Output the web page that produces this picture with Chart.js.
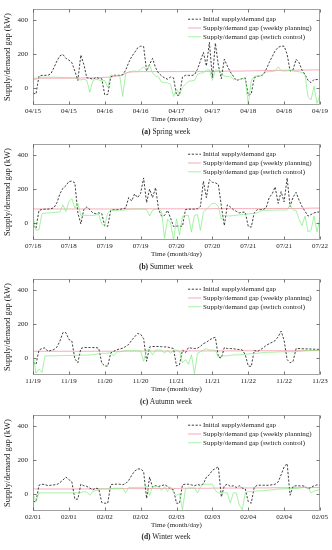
<!DOCTYPE html>
<html>
<head>
<meta charset="utf-8">
<script src="https://cdn.jsdelivr.net/npm/chart.js@4.4.0/dist/chart.umd.min.js"></script>
<style>
  body { margin: 0; background: #fff; width: 332px; height: 550px; position: relative; overflow: hidden; font-family: "Liberation Serif", serif; }
  .panel { position: absolute; left: 0; width: 332px; height: 128px; }
  .caption { position: absolute; left: 0; width: 332px; height: 10px; line-height: 10px; text-align: center; font-size: 7.5px; color: #222; }
</style>
</head>
<body>
<div class="panel" style="top:0px"><canvas id="spring" width="332" height="128"></canvas></div>
<div class="panel" style="top:135px"><canvas id="summer" width="332" height="128"></canvas></div>
<div class="panel" style="top:270px"><canvas id="autumn" width="332" height="128"></canvas></div>
<div class="panel" style="top:406px"><canvas id="winter" width="332" height="128"></canvas></div>
<div class="caption" style="top:127px"><b>(a)</b> Spring week</div>
<div class="caption" style="top:262px"><b>(b)</b> Summer week</div>
<div class="caption" style="top:397px"><b>(c)</b> Autumn week</div>
<div class="caption" style="top:532px"><b>(d)</b> Winter week</div>

<script>
// hourly values, 0..96 h
const seriesLabels = [
  "Initial supply/demand gap",
  "Supply/demand gap (weekly planning)",
  "Supply/demand gap (switch control)",
];
const yTicks = [0, 200, 400];

const springTicks = ["04/15", "04/15", "04/16", "04/16", "04/17", "04/17", "04/18", "04/18", "04/19"];
const springInitial = [
  -30, -35, 70, 75, 75, 75, 85, 120, 160, 190,
  198, 175, 165, 150, 100, 45, 195, 140, 60, 58,
  52, 62, 58, 55, -40, -38, 65, 75, 75, 75,
  78, 105, 150, 185, 210, 237, 247, 245, 100, 140,
  175, 120, 88, 72, 60, 52, 65, 60, -42, -42,
  65, 75, 75, 74, 78, 110, 160, 210, 130, 270,
  60, 265, 135, 55, 170, 130, 95, 70, 45, 50,
  56, 60, -43, -35, 60, 70, 70, 80, 110, 150,
  185, 220, 240, 247, 247, 200, 100, 108, 170, 150,
  105, 80, 45, 32, 50, 50, 54,
];
const springWeekly = [
  58, 58, 58, 58, 58, 58, 58, 58, 58, 58,
  58, 58, 58, 59, 59, 59, 59, 60, 60, 60,
  60, 60, 61, 62, 63, 64, 66, 68, 70, 72,
  78, 88, 93, 95, 96, 96, 97, 97, 97, 97,
  97, 97, 97, 97, 97, 97, 97, 97, 97, 97,
  98, 98, 98, 98, 98, 98, 98, 98, 98, 98,
  98, 98, 99, 99, 99, 100, 100, 100, 100, 100,
  100, 101, 101, 101, 102, 102, 102, 103, 103, 103,
  104, 104, 104, 104, 105, 105, 105, 105, 105, 106,
  106, 106, 106, 107, 107, 107, 107,
];
const springSwitch = [
  52, 50, 62, 64, 64, 64, 64, 64, 63, 63,
  62, 62, 62, 60, 60, 50, 48, 52, 45, -25,
  42, 52, 48, 42, 45, 5, 75, 75, 74, 76,
  -50, 85, 95, 98, 100, 98, 110, 125, 105, 135,
  88, 70, 65, 35, 32, 30, 22, -50, -5, -40,
  5, 22, 40, 42, 45, 80, 88, 90, 105, 108,
  45, 106, 105, 88, 70, 68, 66, 52, 50, 50,
  54, 54, -99, 42, 70, 70, 72, 80, 95, 97,
  98, 100, 125, 102, 100, 101, 105, 100, 98, 97,
  90, 78, -52, -70, 10, -90, -40,
];

const summerTicks = ["07/18", "07/18", "07/19", "07/19", "07/20", "07/20", "07/21", "07/21", "07/22"];
const summerInitial = [
  -15, -30, 75, 80, 82, 82, 85, 90, 120, 172,
  205, 220, 245, 247, 237, 60, -5, 80, 95, 80,
  60, 55, 60, 56, -18, -19, 75, 79, 79, 80,
  85, 88, 150, 130, 172, 150, 175, 266, 120, 200,
  150, 209, 80, 41, 45, 75, 30, -20, -18, -18,
  -19, 79, 82, 82, 82, 85, 97, 247, 150, 256,
  240, 237, 228, 100, -15, 107, 95, 79, 69, 60,
  64, 64, -20, -24, 60, 79, 79, 80, 90, 150,
  172, 213, 116, 185, 125, 266, 97, 153, 181, 135,
  97, 69, 41, 50, 60, 64, 66,
];
const summerWeekly = [
  83, 83, 83, 83, 83, 83, 83, 83, 83, 83,
  83, 83, 83, 83, 83, 83, 83, 83, 83, 83,
  83, 83, 83, 83, 83, 83, 83, 83, 83, 83,
  84, 84, 84, 84, 84, 84, 84, 84, 84, 84,
  84, 84, 84, 84, 84, 84, 84, 84, 84, 84,
  84, 84, 84, 84, 84, 84, 84, 84, 84, 84,
  85, 85, 85, 85, 85, 85, 85, 85, 85, 85,
  85, 85, 85, 85, 85, 85, 85, 85, 85, 85,
  86, 86, 86, 86, 86, 86, 86, 86, 86, 86,
  87, 87, 87, 88, 88, 88, 88,
];
const summerSwitch = [
  40, -43, -40, 56, 58, 60, 60, 62, 64, 66,
  107, 68, 125, 144, 88, 116, 45, 45, 45, 45,
  45, 48, 50, -6, -15, 60, 75, 75, 76, 76,
  76, 78, 80, 82, 82, 82, 82, 82, 80, 41,
  75, 82, 80, 69, -90, 22, 4, -99, 25, -71,
  40, 45, 45, -52, 45, 50, -43, 65, 80, 100,
  116, 116, 97, 22, 45, 42, 42, 44, 46, 48,
  50, 52, 54, 56, 58, 60, 70, 75, 75, 76,
  76, 76, 77, 77, 77, 78, 107, 76, 75, 22,
  -15, 41, -52, -43, 41, -52, 32,
];

const autumnTicks = ["11/19", "11/19", "11/20", "11/20", "11/21", "11/21", "11/22", "11/22", "11/23"];
const autumnInitial = [
  -25, -37, 47, 56, 60, 40, 45, 50, 65, 100,
  150, 150, 110, 100, -5, -28, 56, 62, 62, 62,
  62, 62, 58, -30, -47, -47, 30, 40, 48, 54,
  58, 68, 80, 105, 125, 145, 140, 115, -19, 65,
  68, 68, 68, 67, 66, 65, 60, 56, -47, -40,
  47, 32, 62, 58, 56, 58, 69, 85, 93, 106,
  117, 122, 6, 0, 62, 56, 56, 55, 52, 50,
  48, 20, -47, -50, 45, 38, 48, 60, 75, 84,
  93, 103, 125, 159, 103, -9, -28, -19, 56, 56,
  55, 54, 54, 53, 52, 52, 50,
];
const autumnWeekly = [
  40, 40, 40, 40, 40, 40, 40, 40, 40, 40,
  40, 40, 40, 40, 40, 40, 40, 40, 40, 40,
  40, 40, 40, 40, 40, 40, 40, 40, 40, 40,
  41, 41, 41, 41, 41, 41, 41, 41, 41, 41,
  41, 41, 41, 41, 41, 41, 41, 41, 41, 41,
  42, 42, 42, 42, 42, 42, 42, 42, 42, 42,
  42, 42, 42, 42, 42, 42, 42, 42, 42, 42,
  43, 43, 43, 43, 43, 43, 43, 43, 43, 43,
  43, 43, 43, 43, 43, 43, 43, 43, 43, 43,
  44, 44, 44, 44, 44, 44, 44,
];
const autumnSwitch = [
  28, -90, -65, -85, 13, 13, 13, 13, 14, 14,
  15, 15, 15, 16, 16, 17, 17, 17, 18, 18,
  19, 22, 25, 28, 28, 29, 30, 13, 37, 37,
  40, 43, 43, 43, 43, 43, 43, -19, 47, 47,
  19, 47, 47, 47, 28, 47, 28, 47, 47, 40,
  -28, -9, -37, 19, -93, 28, 37, 47, 56, 47,
  47, 45, 6, 13, 13, 13, 16, 18, 19, 19,
  20, 22, 24, 26, 28, 28, 30, 32, 34, 34,
  34, 35, 36, 37, 37, 37, 37, 37, 38, 40,
  41, 42, 43, 44, 45, 46, 47,
];

const winterTicks = ["02/01", "02/01", "02/02", "02/02", "02/03", "02/03", "02/04", "02/04", "02/05"];
const winterInitial = [
  -45, -45, 52, 58, 56, 50, 52, 54, 56, 68,
  82, 100, 85, 72, -30, -30, 58, 49, 45, 35,
  25, 35, 30, -50, -54, -54, 55, 58, 58, 58,
  55, 62, 80, 110, 135, 148, 148, 133, -26, 100,
  40, 50, 45, 49, 55, 45, 30, 25, -54, -54,
  55, 58, 58, 54, 49, 56, 52, 60, 100, 114,
  140, 150, 161, -17, 49, 58, 45, 49, 39, 49,
  35, 30, -45, -54, 40, 52, 52, 52, 52, 52,
  55, 58, 71, 114, 160, 180, -7, 45, 49, 48,
  49, 45, 30, 39, 49, 54, 52,
];
const winterWeekly = [
  30, 30, 30, 30, 30, 30, 30, 30, 30, 30,
  30, 30, 30, 30, 30, 30, 30, 30, 30, 30,
  31, 31, 31, 31, 31, 31, 31, 31, 31, 31,
  32, 32, 32, 32, 32, 32, 32, 32, 32, 32,
  33, 33, 33, 33, 33, 33, 33, 33, 33, 33,
  34, 34, 34, 34, 34, 34, 34, 34, 34, 34,
  35, 35, 35, 35, 35, 35, 35, 35, 35, 35,
  36, 36, 36, 36, 36, 36, 36, 36, 36, 36,
  37, 37, 37, 37, 37, 37, 37, 37, 37, 37,
  38, 38, 38, 38, 38, 38, 38,
];
const winterSwitch = [
  0, -45, 7, 7, 7, 7, 7, 7, 7, 7,
  7, 7, 7, 7, 7, 7, 7, 15, 12, -7,
  15, 21, 26, 30, 30, 30, 30, 34, 34, 34,
  34, 7, 39, 39, 39, 39, 39, 40, 45, -7,
  43, 43, 43, 22, 43, 15, 43, 11, -7, 2,
  -92, 30, 36, 36, 36, 7, 40, 58, 58, 58,
  58, 21, 7, 7, 7, 7, -54, 7, 7, -64,
  -92, 7, 15, 15, 17, 18, 19, 20, 22, 23,
  25, 26, 30, 30, 31, 32, 32, 33, 34, 35,
  39, 39, 39, 7, 18, 21, 30,
];

const textColor = "#222";
const fontFamily = "Liberation Serif";

// legend drawn inside the plot, top right
const legendInside = {
  id: "legendInside",
  afterDatasetsDraw(chart) {
    const { ctx, chartArea } = chart;
    ctx.save();
    ctx.font = `7px "${fontFamily}"`;
    ctx.textBaseline = "middle";
    chart.data.datasets.forEach((ds, i) => {
      const y = chartArea.top + 10 + i * 8.8;
      ctx.strokeStyle = ds.borderColor;
      ctx.lineWidth = ds.borderWidth;
      ctx.setLineDash(ds.borderDash || []);
      ctx.beginPath();
      ctx.moveTo(188, y);
      ctx.lineTo(201, y);
      ctx.stroke();
      ctx.fillStyle = textColor;
      ctx.fillText(ds.label, 203, y);
    });
    ctx.restore();
  },
};

// box around the plot with inward tick marks
const frameBox = {
  id: "frameBox",
  afterDatasetsDraw(chart) {
    const { ctx, chartArea: a, scales } = chart;
    const l = Math.round(a.left) + 0.5, r = Math.round(a.right) - 0.5;
    const t = Math.round(a.top) + 0.5, b = Math.round(a.bottom) - 0.5;
    ctx.save();
    ctx.setLineDash([]);
    ctx.strokeStyle = "#8a8a8a";
    ctx.lineWidth = 0.8;
    ctx.strokeRect(l, t, r - l, b - t);
    ctx.beginPath();
    for (const tick of scales.x.ticks) {
      const px = Math.round(scales.x.getPixelForValue(tick.value)) + 0.5;
      ctx.moveTo(px, b); ctx.lineTo(px, b - 3);
      ctx.moveTo(px, t); ctx.lineTo(px, t + 3);
    }
    for (const tick of scales.y.ticks) {
      const py = Math.round(scales.y.getPixelForValue(tick.value)) + 0.5;
      ctx.moveTo(l, py); ctx.lineTo(l + 3, py);
      ctx.moveTo(r, py); ctx.lineTo(r - 3, py);
    }
    ctx.strokeStyle = "#555";
    ctx.stroke();
    ctx.restore();
  },
};

function toPoints(values) {
  return values.map((v, i) => ({ x: i, y: v }));
}

function drawWeek(canvasId, tickLabels, initial, weekly, switched) {
  return new Chart(document.getElementById(canvasId), {
    type: "line",
    data: {
      datasets: [
        {
          label: seriesLabels[0],
          data: toPoints(initial),
          borderColor: "#2b2b2b",
          borderWidth: 0.9,
          borderDash: [2.2, 1.6],
          order: 1,
        },
        {
          label: seriesLabels[1],
          data: toPoints(weekly),
          borderColor: "#f4a2b0",
          borderWidth: 0.9,
          order: 2,
        },
        {
          label: seriesLabels[2],
          data: toPoints(switched),
          borderColor: "#7cee7c",
          borderWidth: 0.7,
          order: 0,
        },
      ],
    },
    options: {
      responsive: false,
      animation: false,
      layout: { padding: { top: 5, right: 12, left: 0, bottom: 0 } },
      elements: { point: { radius: 0 }, line: { tension: 0 } },
      plugins: { legend: { display: false }, tooltip: { enabled: false } },
      scales: {
        x: {
          type: "linear",
          min: 0,
          max: 96,
          grid: { display: false, drawTicks: false },
          border: { display: false },
          ticks: {
            stepSize: 12,
            autoSkip: false,
            maxRotation: 0,
            padding: 2,
            color: textColor,
            font: { family: fontFamily, size: 7 },
            callback: (value) => tickLabels[Math.round(value / 12)],
          },
          title: {
            display: true,
            text: "Time (month/day)",
            color: textColor,
            font: { family: fontFamily, size: 7 },
            padding: { top: 0, bottom: 5 },
          },
          afterFit: (scale) => { scale.height = 23; },
        },
        y: {
          min: -100,
          max: 465,
          grid: { display: false, drawTicks: false },
          border: { display: false },
          afterBuildTicks: (scale) => { scale.ticks = yTicks.map((v) => ({ value: v })); },
          ticks: {
            padding: 5,
            color: textColor,
            font: { family: fontFamily, size: 7 },
          },
          title: {
            display: true,
            text: "Supply/demand gap (kW)",
            color: textColor,
            font: { family: fontFamily, size: 8.5 },
            padding: { top: 3, bottom: 0 },
          },
          afterFit: (scale) => { scale.width = 33; },
        },
      },
    },
    plugins: [frameBox, legendInside],
  });
}

drawWeek("spring", springTicks, springInitial, springWeekly, springSwitch);
drawWeek("summer", summerTicks, summerInitial, summerWeekly, summerSwitch);
drawWeek("autumn", autumnTicks, autumnInitial, autumnWeekly, autumnSwitch);
drawWeek("winter", winterTicks, winterInitial, winterWeekly, winterSwitch);
</script>
</body>
</html>
